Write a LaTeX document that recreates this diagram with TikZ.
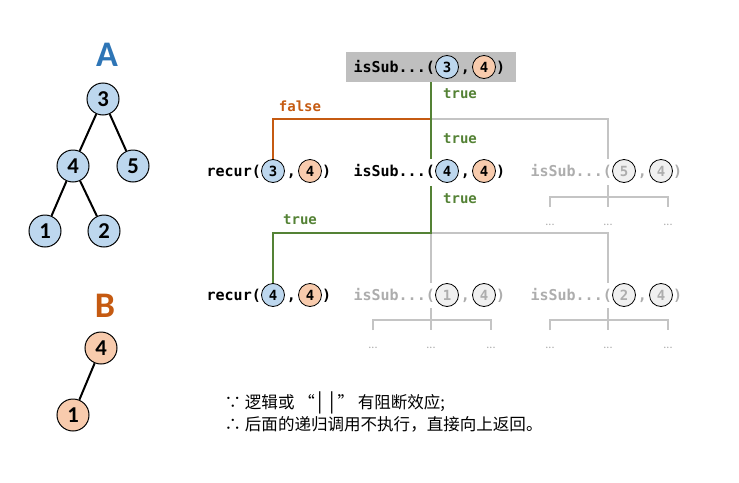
\documentclass[tikz,border=0pt]{standalone}
\usepackage{fontspec}
\usepackage{xcolor}
\usepackage{tikz}
\usetikzlibrary{calc}
\setmainfont{Carlito}
\setmonofont{DejaVu Sans Mono}
\newfontfamily\cjk{Noto Sans CJK SC}

\definecolor{titleblue}{HTML}{2E75B6}
\definecolor{titleorange}{HTML}{C55A11}
\definecolor{fillblue}{HTML}{BDD7EE}
\definecolor{fillorange}{HTML}{F8CBAD}
\definecolor{truegreen}{HTML}{548235}
\definecolor{boxgray}{HTML}{BFBFBF}
\definecolor{linegray}{HTML}{C4C4C4}
\definecolor{textgray}{HTML}{ADADAD}

\begin{document}
\begin{tikzpicture}[x=0.75pt, y=-0.75pt,
    tnode/.style={circle, draw=black, line width=0.75pt, minimum size=24pt, inner sep=0pt,
        font=\bfseries\fontsize{17}{20}\selectfont},
    ttitle/.style={font=\bfseries\fontsize{27}{30}\selectfont},
    edge/.style={line width=1.5pt, black},
    arg/.style={circle, draw=black, line width=0.6pt, minimum size=17.25pt, inner sep=0pt,
        font=\ttfamily\bfseries\fontsize{10.5}{12}\selectfont},
    argb/.style={arg, fill=fillblue},
    argo/.style={arg, fill=fillorange},
    argg/.style={arg, fill=black!6, text=textgray},
    call/.style={inner sep=0pt, font=\ttfamily\bfseries\fontsize{11.25}{13}\selectfont},
    callg/.style={call, text=textgray},
    lab/.style={font=\ttfamily\bfseries\fontsize{10.5}{12}\selectfont},
    tline/.style={line width=1.4pt, truegreen},
    fline/.style={line width=1.4pt, titleorange},
    gline/.style={line width=1.1pt, linegray},
    dots/.style={text=textgray, font=\fontsize{9}{10}\selectfont}]
    \useasboundingbox (0,0) rectangle (739,482);

    % tree A
    \node[ttitle, titleblue] (ta) at (107,55) {A};
    \node[tnode, fill=fillblue] (a3) at (103,99) {3};
    \node[tnode, fill=fillblue] (a4) at (73,166) {4};
    \node[tnode, fill=fillblue] (a5) at (133,166) {5};
    \node[tnode, fill=fillblue] (a1) at (45,231) {1};
    \node[tnode, fill=fillblue] (a2) at (104,231) {2};
    \draw[edge] (a3) -- (a4);
    \draw[edge] (a3) -- (a5);
    \draw[edge] (a4) -- (a1);
    \draw[edge] (a4) -- (a2);

    % tree B
    \node[ttitle, titleorange] (tb) at (105,306) {B};
    \node[tnode, fill=fillorange] (b4) at (101,348) {4};
    \node[tnode, fill=fillorange] (b1) at (73,415) {1};
    \draw[edge] (b4) -- (b1);

    % top call
    \node[fill=boxgray, minimum width=127.5pt, minimum height=22.5pt] (box) at (431,67) {};
    \node[argb] (s0a) at (447,67) {3};
    \node[argo] (s0b) at (484,67) {4};
    \node[call, anchor=base east] (s0p) at ($(s0a.west)+(0,5)$) {isSub...(};
    \node[call, anchor=base] (s0c) at ($(s0a)!0.5!(s0b)+(0,5)$) {,};
    \node[call, anchor=base west] (s0e) at ($(s0b.east)+(0,5)$) {)};

    % second row
    \node[argb] (r1a) at (273,171) {3};
    \node[argo] (r1b) at (310,171) {4};
    \node[call, anchor=base east] (r1p) at ($(r1a.west)+(0,5)$) {recur(};
    \node[call, anchor=base] (r1c) at ($(r1a)!0.5!(r1b)+(0,5)$) {,};
    \node[call, anchor=base west] (r1e) at ($(r1b.east)+(0,5)$) {)};

    \node[argb] (s1a) at (447,171) {4};
    \node[argo] (s1b) at (484,171) {4};
    \node[call, anchor=base east] (s1p) at ($(s1a.west)+(0,5)$) {isSub...(};
    \node[call, anchor=base] (s1c) at ($(s1a)!0.5!(s1b)+(0,5)$) {,};
    \node[call, anchor=base west] (s1e) at ($(s1b.east)+(0,5)$) {)};

    \node[argg] (s2a) at (624,171) {5};
    \node[argg] (s2b) at (661,171) {4};
    \node[callg, anchor=base east] (s2p) at ($(s2a.west)+(0,5)$) {isSub...(};
    \node[callg, anchor=base] (s2c) at ($(s2a)!0.5!(s2b)+(0,5)$) {,};
    \node[callg, anchor=base west] (s2e) at ($(s2b.east)+(0,5)$) {)};

    % third row
    \node[argb] (r3a) at (273,295) {4};
    \node[argo] (r3b) at (310,295) {4};
    \node[call, anchor=base east] (r3p) at ($(r3a.west)+(0,5)$) {recur(};
    \node[call, anchor=base] (r3c) at ($(r3a)!0.5!(r3b)+(0,5)$) {,};
    \node[call, anchor=base west] (r3e) at ($(r3b.east)+(0,5)$) {)};

    \node[argg] (s3a) at (447,295) {1};
    \node[argg] (s3b) at (484,295) {4};
    \node[callg, anchor=base east] (s3p) at ($(s3a.west)+(0,5)$) {isSub...(};
    \node[callg, anchor=base] (s3c) at ($(s3a)!0.5!(s3b)+(0,5)$) {,};
    \node[callg, anchor=base west] (s3e) at ($(s3b.east)+(0,5)$) {)};

    \node[argg] (s4a) at (624,295) {2};
    \node[argg] (s4b) at (661,295) {4};
    \node[callg, anchor=base east] (s4p) at ($(s4a.west)+(0,5)$) {isSub...(};
    \node[callg, anchor=base] (s4c) at ($(s4a)!0.5!(s4b)+(0,5)$) {,};
    \node[callg, anchor=base west] (s4e) at ($(s4b.east)+(0,5)$) {)};

    % branches
    \coordinate (j1) at (431,119);
    \coordinate (j2) at (431,233);
    \coordinate (k2) at ($(s2a.north)+(-16,0)$);
    \coordinate (k4) at ($(s4a.north)+(-16,0)$);
    \draw[gline] (j1) -| (k2);
    \draw[gline] (j2) -| (k4);
    \draw[gline] (j2) -- (j2 |- s3a.north);
    \draw[fline] (j1) -| (r1a.north);
    \draw[tline] (box.south) -- (box.south |- s1a.north);
    \draw[tline] ($(j2 |- s1a.south)+(0,3)$) -- (j2) -| (r3a.north);

    \node[lab, truegreen] (l1) at (460,94) {true};
    \node[lab, titleorange] (l2) at (300,106) {false};
    \node[lab, truegreen] (l3) at (460,139) {true};
    \node[lab, truegreen] (l4) at (460,199) {true};
    \node[lab, truegreen] (l5) at (300,220) {true};

    % unexplored calls
    \foreach \x/\y/\i in {608/197/1, 431/320/2, 608/320/3} {
        \draw[gline] (\x,\y-12) -- (\x,\y+10);
        \draw[gline] (\x-58,\y+10) |- (\x+60,\y) -- (\x+60,\y+10);
        \node[dots] (d\i a) at (\x-58,\y+28) {...};
        \node[dots] (d\i b) at (\x,\y+28) {...};
        \node[dots] (d\i c) at (\x+60,\y+28) {...};
    }

    % note
    \node[anchor=west, font=\cjk\fontsize{12.4}{14}\selectfont] (n1) at (220,403)
        {∵ 逻辑或 “\hspace{2pt}{\fontsize{15}{15}\selectfont|\hspace{5pt}|}\hspace{2pt}” 有阻断效应;};
    \node[anchor=west, font=\cjk\fontsize{12.4}{14}\selectfont] (n2) at (220,424) {∴ 后面的递归调用不执行，直接向上返回。};
\end{tikzpicture}
\end{document}
